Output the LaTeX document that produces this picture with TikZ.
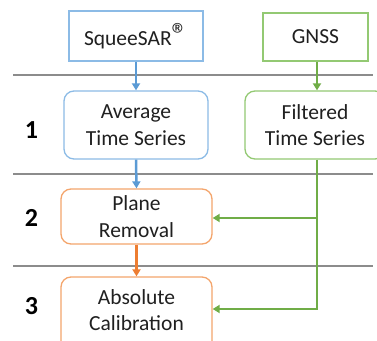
\documentclass[tikz,border=0pt]{standalone}
\usepackage{fontspec}
\setmainfont{Carlito}
\usetikzlibrary{arrows.meta}
\definecolor{bArr}{HTML}{5B9BD5}
\definecolor{gArr}{HTML}{70AD47}
\definecolor{oArr}{HTML}{ED7D31}
\definecolor{bBox}{HTML}{8CBBE6}
\definecolor{gBox}{HTML}{93C973}
\definecolor{oBox}{HTML}{F4A56C}
\definecolor{sep}{HTML}{8C8C8C}
\definecolor{txt}{HTML}{202020}
\begin{document}
\begin{tikzpicture}[x=1pt,y=-1pt,
  every node/.style={font=\fontsize{21.5}{26.5}\selectfont, text=txt, align=center, inner sep=0pt},
  sqbox/.style={draw=#1, line width=1.3pt, fill=white},
  rbox/.style={draw=#1, line width=1.3pt, fill=white, rounded corners=10pt},
  arr/.style={draw=#1, line width=2.5pt, -{Triangle[length=7pt,width=8pt]}},
  lvl/.style={font=\fontsize{26}{30}\selectfont\bfseries, text=black},
  sepline/.style={draw=sep, line width=1.1pt}]
\useasboundingbox (0,0) rectangle (377,340);
\fill[white] (0,0) rectangle (377,340);
% separators
\draw[sepline] (13,75) -- (373,75);
\draw[sepline] (13,174) -- (373,174);
\draw[sepline] (13,266) -- (373,266);
% nodes
\node[sqbox=bBox, minimum width=134pt, minimum height=50pt] (sq) at (136,36) {SqueeSAR{\fontsize{32}{32}\selectfont ®}};
\node[sqbox=gBox, minimum width=105pt, minimum height=48pt] (gn) at (315.5,37) {GNSS};
\node[rbox=bBox, minimum width=144pt, minimum height=68pt] (avg) at (136,125) {Average\\Time Series};
\node[rbox=gBox, minimum width=140pt, minimum height=68pt] (fil) at (315,125) {Filtered\\Time Series};
\node[rbox=oBox, minimum width=151pt, minimum height=55pt] (pl) at (136.5,216.5) {Plane\\Removal};
\node[rbox=oBox, minimum width=151pt, minimum height=76pt] (abbox) at (136.5,315) {};
\node (ab) at (136.5,310) {Absolute\\Calibration};
\node[lvl] (n1) at (31.5,130) {1};
\node[lvl] (n2) at (31.5,218) {2};
\node[lvl] (n3) at (31.5,306) {3};
% connectors
\coordinate (gx) at (317,0);
\coordinate (j1) at (317,218);
\coordinate (j2) at (317,309);
\draw[arr=bArr] (sq.south) -- (avg.north);
\draw[arr=bArr] (avg.south) -- (pl.north);
\draw[arr=oArr] (pl.south) -- (abbox.north);
\draw[arr=gArr] (gn.south -| gx) -- (fil.north -| gx);
\draw[arr=gArr, line join=miter] (fil.south -| gx) -- (j2) -- (j2 -| abbox.east);
\draw[arr=gArr] (j1) -- (j1 -| pl.east);
\end{tikzpicture}
\end{document}
